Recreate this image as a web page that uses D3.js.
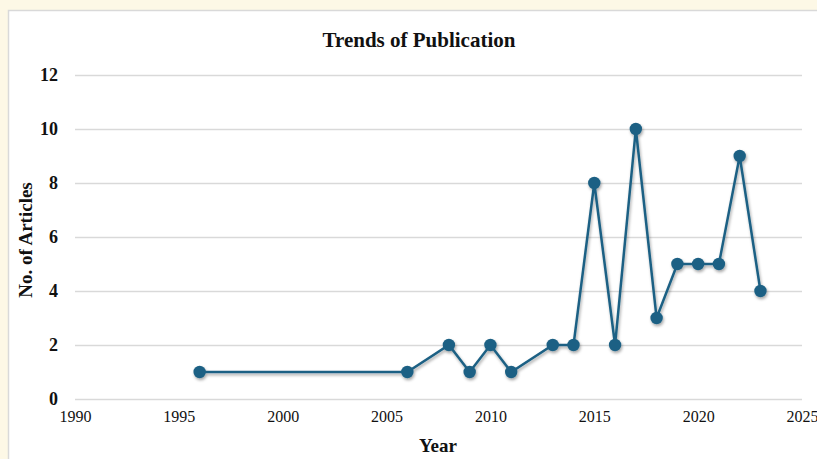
<!DOCTYPE html>
<html>
<head>
<meta charset="utf-8">
<script src="https://cdn.jsdelivr.net/npm/d3@7"></script>
<style>
html,body{margin:0;padding:0;background:#fdf8e6;}
svg{display:block;}
</style>
</head>
<body>
<svg id="chart" width="817" height="459"></svg>
<script>
const years = [1996, 2006, 2008, 2009, 2010, 2011, 2013, 2014, 2015, 2016, 2017, 2018, 2019, 2020, 2021, 2022, 2023];
const articles = [1, 1, 2, 1, 2, 1, 2, 2, 8, 2, 10, 3, 5, 5, 5, 9, 4];
const xTicks = [1990, 1995, 2000, 2005, 2010, 2015, 2020, 2025];
const yTicks = [0, 2, 4, 6, 8, 10, 12];
const title = "Trends of Publication";
const xTitle = "Year";
const yTitle = "No. of Articles";

const svg = d3.select("#chart");
const serif = "'Liberation Serif','Times New Roman',serif";
const color = "#1d6184";

// panel
svg.append("rect").attr("x", 8.5).attr("y", 10.5).attr("width", 830).attr("height", 470)
  .attr("fill", "#ffffff").attr("stroke", "#d9d9d9").attr("stroke-width", 1.5);

const x = d3.scaleLinear().domain([1990, 2025]).range([75, 802]);
const y = d3.scaleLinear().domain([0, 12]).range([399, 75]);

const defs = svg.append("defs");
const f = defs.append("filter").attr("id", "shadow").attr("x", "-20%").attr("y", "-20%").attr("width", "140%").attr("height", "140%");
f.append("feDropShadow").attr("dx", 1).attr("dy", 2).attr("stdDeviation", 1.5).attr("flood-color", "#000").attr("flood-opacity", 0.35);

// grid
const yAxis = d3.axisLeft(y).tickValues(yTicks).tickSize(-(802 - 75)).tickPadding(17).tickFormat(d3.format("d"));
const gy = svg.append("g").attr("transform", "translate(75,0)").call(yAxis);
gy.select(".domain").remove();
gy.selectAll(".tick line").attr("stroke", "#d9d9d9").attr("stroke-width", 1.3);
gy.selectAll(".tick text").attr("font-family", serif).attr("font-weight", "bold").attr("font-size", 18).attr("fill", "#111");

const xAxis = d3.axisBottom(x).tickValues(xTicks).tickSize(0).tickPadding(12).tickFormat(d3.format("d"));
const gx = svg.append("g").attr("transform", "translate(0,399)").call(xAxis);
gx.select(".domain").remove();
gx.selectAll(".tick text").attr("font-family", serif).attr("font-size", 16).attr("fill", "#111");

// line
const data = years.map((yr, i) => ({yr, v: articles[i]}));
const g = svg.append("g").attr("filter", "url(#shadow)");
g.append("path").datum(data)
  .attr("d", d3.line().x(d => x(d.yr)).y(d => y(d.v)))
  .attr("fill", "none").attr("stroke", color).attr("stroke-width", 2.5);
g.selectAll("circle").data(data).join("circle")
  .attr("cx", d => x(d.yr)).attr("cy", d => y(d.v)).attr("r", 6.2).attr("fill", color);

// titles
svg.append("text").attr("x", 419).attr("y", 47).attr("text-anchor", "middle")
  .attr("font-family", serif).attr("font-weight", "bold").attr("font-size", 21).attr("fill", "#111").text(title);
svg.append("text").attr("x", 438).attr("y", 452).attr("text-anchor", "middle")
  .attr("font-family", serif).attr("font-weight", "bold").attr("font-size", 19).attr("fill", "#111").text(xTitle);
svg.append("text").attr("transform", "translate(32,240) rotate(-90)").attr("text-anchor", "middle")
  .attr("font-family", serif).attr("font-weight", "bold").attr("font-size", 19).attr("fill", "#111").text(yTitle);
</script>
</body>
</html>
